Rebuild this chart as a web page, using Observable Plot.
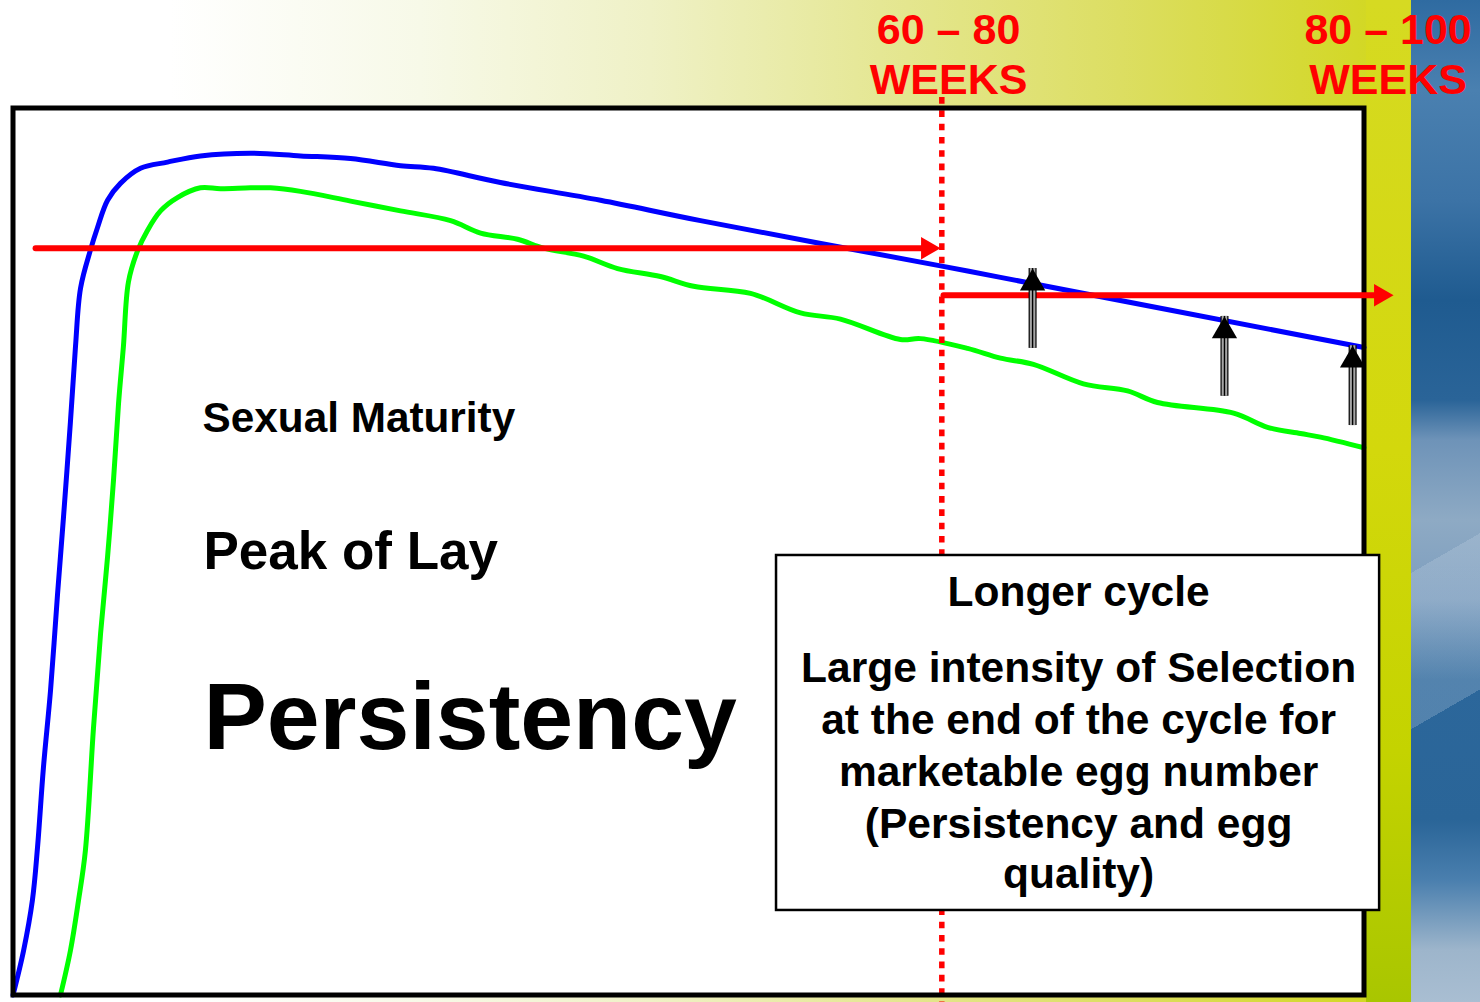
<!DOCTYPE html>
<html>
<head>
<meta charset="utf-8">
<script src="https://cdn.jsdelivr.net/npm/d3@7"></script>
<script src="https://cdn.jsdelivr.net/npm/@observablehq/plot@0.6"></script>
<style>
html, body { margin: 0; padding: 0; width: 1480px; height: 1002px; overflow: hidden; font-family: "Liberation Sans", Arial, sans-serif; }
#bg { position: absolute; left: 0; top: 0; width: 1480px; height: 1002px;
  background: linear-gradient(to right, #ffffff 0px, #ffffff 170px, #f7f9e8 420px, #eff1c6 650px, #e5e794 880px, #dcde62 1120px, #d5d936 1300px, #d1d71a 1411px); }
#band { position: absolute; left: 1366px; top: 0; width: 46px; height: 1002px;
  background: linear-gradient(to bottom, #d6da22 0%, #d3d80c 45%, #c4d300 75%, #a9c600 100%); }
#blue { position: absolute; left: 1411px; top: 0; width: 69px; height: 1002px;
  background:
    linear-gradient(150deg, rgba(255,255,255,0) 0 55%, rgba(200,215,230,0.25) 55% 70%, rgba(255,255,255,0) 70%),
    linear-gradient(to bottom, #2f6ba1 0px, #4a80b0 90px, #3c73a6 200px, #1f5b90 300px, #2a6498 400px, #6e93b8 440px, #8eaac4 520px, #7c9dbe 600px, #2c679b 680px, #2a6598 820px, #4a7fae 880px, #9db5cb 950px, #a9bed2 1002px); }
#chart { position: absolute; left: 0; top: 0; }
</style>
</head>
<body>
<div id="bg"></div>
<div id="band"></div>
<div id="blue"></div>
<div id="chart"></div>
<script>
// Age in weeks (x) and laying rate in % (y)
const blueWeeks = [36.0, 36.5, 36.92, 37.16, 37.44, 37.78, 38.11, 38.39, 38.72, 38.96, 39.2, 39.67, 40.0, 40.48, 41.09, 42.04, 43.32, 44.88, 47.25, 49.62, 51.99, 54.36, 55.92, 59.09, 63.83, 68.57, 79.94, 82.78, 100];
const blueRate  = [0, 5.0, 10.7, 16.6, 25.6, 34.4, 45.2, 53.8, 64.6, 73.1, 79.7, 84.0, 86.5, 89.6, 91.5, 93.2, 93.9, 94.6, 94.9, 94.6, 94.3, 93.5, 93.2, 91.6, 89.6, 87.3, 82.2, 80.9, 73.0];

const greenWeeks = [38.25, 38.72, 39.10, 39.43, 39.81, 40.15, 40.48, 40.76, 41.00, 41.23, 41.47, 41.90, 42.37, 42.99, 43.79, 44.88, 45.83, 47.25, 48.2, 49.62, 51.99, 54.36, 56.73, 58.15, 59.90, 61.13, 63.03, 64.64, 66.67, 68.24, 70.94, 73.31, 75.20, 78.04, 78.99, 81.22, 82.78, 84.34, 86.71, 88.80, 90.22, 93.82, 95.43, 96.99, 97.94, 100];
const greenRate  = [0, 5.0, 10.6, 16.3, 30.0, 40.8, 49.4, 58.0, 66.7, 73.1, 80.4, 83.9, 86.2, 88.4, 89.9, 91.0, 90.9, 91.0, 91.0, 90.6, 89.5, 88.4, 87.3, 85.9, 85.2, 84.2, 83.3, 81.9, 81.0, 79.9, 79.1, 76.9, 76.2, 73.9, 74.0, 72.9, 71.8, 71.1, 68.9, 68.1, 66.8, 65.6, 64.0, 63.3, 62.9, 61.7];

// Red horizontal arrows (cycle ends)
const redArrowStart = [37.07, 80.08];
const redArrowEnd   = [79.94, 101.4];
const redArrowLevel = [84.2, 78.9];

// Cycle boundary (dotted line)
const cycleBoundary = [80];

// Black selection arrows
const selWeeks   = [84.30, 93.39, 99.46];
const selTip     = [81.9, 76.5, 73.2];
const selBottom  = [72.9, 67.5, 64.2];

// Week range labels
const rangeLabels = ["60 – 80", "WEEKS", "80 – 100", "WEEKS"];
const rangeWeeks  = [80.32, 80.32, 101.14, 101.14];
const rangeLevels = [108.8, 103.1, 108.8, 103.1];

// Left labels
const phaseLabels = ["Sexual Maturity", "Peak of Lay", "Persistency"];
const phaseWeeks  = [44.98, 45.02, 45.02];
const phaseLevels = [64.95, 49.9, 31.2];
const phaseSizes  = [42.3, 53, 95];

// Text box
const boxX = [72.17, 100.74];
const boxY = [9.53, 49.55];
const boxLines = ["Longer cycle", "Large intensity of Selection", "at the end of the cycle for", "marketable egg number", "(Persistency and egg", "quality)"];
const boxLineLevels = [45.38, 36.81, 30.95, 25.08, 19.22, 13.58];
const boxCenterWeek = 86.48;

const FONT = "Liberation Sans, Arial, sans-serif";

const blue = blueWeeks.map((w, i) => ({w, r: blueRate[i]}));
const green = greenWeeks.map((w, i) => ({w, r: greenRate[i]}));
const redArrows = redArrowStart.map((s, i) => ({s, e: redArrowEnd[i], y: redArrowLevel[i]}));
const sel = selWeeks.map((w, i) => ({w, tip: selTip[i], bot: selBottom[i]}));
const ranges = rangeLabels.map((t, i) => ({t, x: rangeWeeks[i], y: rangeLevels[i]}));
const phases = phaseLabels.map((t, i) => ({t, x: phaseWeeks[i], y: phaseLevels[i], s: phaseSizes[i]}));
const lines = boxLines.map((t, i) => ({t, y: boxLineLevels[i]}));

const triY = 6.5;   // arrow head unit (px)
const rRed = Math.sqrt(3 * Math.sqrt(3) * triY * triY / Math.PI);
const triB = 7.3;
const rBlack = Math.sqrt(3 * Math.sqrt(3) * triB * triB / Math.PI);

const chart = Plot.plot({
  width: 1480,
  height: 1002,
  marginLeft: 12.5,
  marginRight: 116.5,
  marginTop: 107.5,
  marginBottom: 7.5,
  x: {domain: [36, 100], axis: null},
  y: {domain: [0, 100], axis: null},
  style: {background: "transparent", overflow: "visible"},
  marks: [
    Plot.frame({fill: "white", stroke: null}),
    Plot.line(blue, {x: "w", y: "r", stroke: "#0000ff", strokeWidth: 5, curve: "catmull-rom"}),
    Plot.line(green, {x: "w", y: "r", stroke: "#00ff00", strokeWidth: 5, curve: "catmull-rom"}),
    Plot.ruleX(cycleBoundary, {x: d => d, y1: 101.18, y2: -0.85, stroke: "#ff0000", strokeWidth: 5.5, strokeDasharray: "6.6 6.7"}),
    Plot.frame({stroke: "black", strokeWidth: 5}),
    Plot.arrow(redArrows, {x1: "s", x2: "e", y1: "y", y2: "y", stroke: "#ff0000", strokeWidth: 6, headLength: 0, insetEnd: 12}),
    Plot.dot(redArrows, {x: "e", y: "y", symbol: "triangle", rotate: 90, r: rRed, fill: "#ff0000", stroke: null, dx: -2 * triY}),
    Plot.ruleX(sel, {x: "w", y1: "tip", y2: "bot", stroke: "black", strokeWidth: 8}),
    Plot.ruleX(sel, {x: "w", y1: "tip", y2: "bot", stroke: "#a6a6a6", strokeWidth: 5.6}),
    Plot.ruleX(sel, {x: "w", y1: "tip", y2: "bot", stroke: "black", strokeWidth: 1.4}),
    Plot.dot(sel, {x: "w", y: "tip", symbol: "triangle", r: rBlack, fill: "black", stroke: null, dy: 2 * triB}),
    Plot.rect([0], {x1: boxX[0], x2: boxX[1], y1: boxY[0], y2: boxY[1], fill: "white", stroke: "black", strokeWidth: 2.5}),
    Plot.text(lines, {x: boxCenterWeek, y: "y", text: "t", fontSize: 42.5, fontWeight: "bold", fontFamily: FONT, fill: "black", lineAnchor: "middle"}),
    Plot.text(phases, {x: "x", y: "y", text: "t", fontSize: "s", fontWeight: "bold", fontFamily: FONT, fill: "black", textAnchor: "start", lineAnchor: "middle"}),
    Plot.text(ranges, {x: "x", y: "y", text: "t", fontSize: 43, fontWeight: "bold", fontFamily: FONT, fill: "#ff0000", lineAnchor: "middle"})
  ]
});
document.getElementById("chart").appendChild(chart);
</script>
</body>
</html>
